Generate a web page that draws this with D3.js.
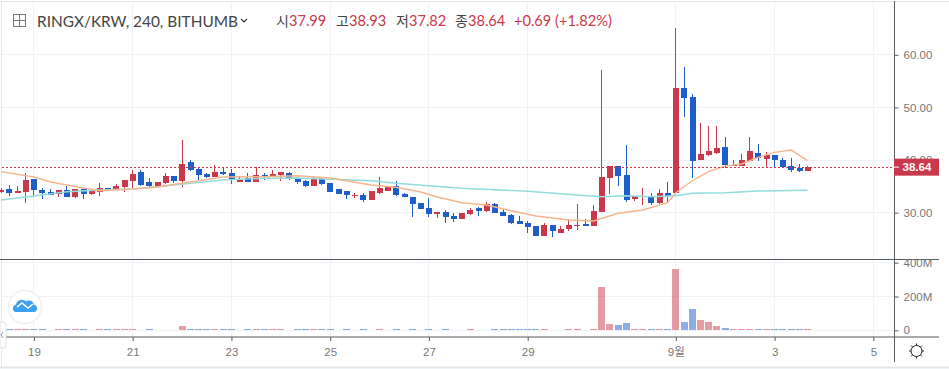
<!DOCTYPE html>
<html><head><meta charset="utf-8">
<script src="https://cdn.jsdelivr.net/npm/d3@7/dist/d3.min.js"></script>
<style>html,body{margin:0;padding:0;background:#fff;overflow:hidden}svg{display:block}</style>
</head><body><svg id="c" width="949" height="369"></svg>
<script>
const opens=[33.97,34.49,33.78,33.92,36.39,34.35,33.92,33.54,34.30,32.97,34.43,33.54,33.92,34.68,34.49,34.92,36.01,37.78,35.82,35.06,35.63,36.96,36.06,39.56,38.29,37.34,36.71,37.78,37.47,35.87,36.58,35.87,37.15,36.77,37.20,37.59,36.63,36.06,35.06,36.44,35.57,34.49,34.05,33.29,33.35,32.40,33.67,34.11,35.00,33.54,32.97,31.82,30.87,29.79,30.17,29.35,28.78,29.73,30.87,30.30,31.63,30.11,29.54,28.40,27.97,27.45,25.55,27.59,26.12,26.88,27.45,27.83,27.51,30.17,36.63,38.86,37.15,32.59,33.02,33.16,31.82,33.73,33.73,53.69,51.97,40.06,40.95,41.27,42.47,38.86,38.92,39.87,41.27,40.25,40.95,40.00,38.80,38.54,37.99];
const closes=[34.39,33.78,34.11,36.20,34.35,33.73,33.40,34.35,33.02,34.43,33.54,34.16,34.68,34.54,35.06,36.14,37.34,35.25,35.06,35.82,36.96,36.01,39.24,38.10,37.20,36.77,37.72,37.34,36.20,36.39,35.87,37.15,36.71,37.34,37.78,36.44,35.76,35.06,36.39,35.44,33.92,33.54,33.35,33.40,32.40,34.05,34.68,35.00,33.40,33.02,31.63,30.68,29.73,30.11,29.11,28.73,29.87,30.49,30.30,31.63,29.98,29.35,28.02,27.83,27.26,25.55,27.64,26.50,26.88,27.64,27.64,27.45,30.30,36.77,38.92,37.01,32.40,33.10,33.10,31.88,33.73,33.21,53.69,51.79,39.87,41.08,41.71,42.28,39.05,39.11,39.94,41.71,40.38,40.95,40.06,38.73,38.16,37.91,38.64];
const highs=[34.68,35.25,35.06,37.47,36.39,34.62,34.43,34.35,35.06,34.43,34.43,34.43,35.63,34.68,35.38,36.14,38.10,38.10,36.58,35.82,37.47,36.96,43.80,40.00,38.54,37.59,38.99,38.54,38.23,36.96,37.47,38.67,37.59,38.04,37.78,37.78,36.82,36.20,36.96,36.52,35.57,34.49,34.05,33.78,33.67,34.05,36.71,35.00,36.01,33.67,32.97,31.82,32.78,30.11,30.49,29.87,29.87,30.82,31.01,31.96,31.77,30.63,29.68,29.35,28.46,27.45,27.97,27.59,27.40,28.73,31.63,28.73,31.44,57.11,38.92,38.86,42.79,33.10,34.68,33.67,34.43,35.76,65.03,57.62,52.49,46.98,46.41,46.41,44.31,40.00,41.08,44.31,42.98,41.46,40.95,40.32,40.32,39.18,38.93];
const lows=[33.73,33.16,33.78,31.88,33.02,32.64,33.35,33.02,33.02,32.83,32.64,33.29,33.21,34.54,34.30,33.97,34.68,35.06,34.92,35.06,35.44,35.68,34.92,37.97,36.20,36.58,36.71,37.09,35.49,35.87,35.87,35.87,36.25,36.77,36.06,36.20,35.49,34.92,35.06,35.25,33.92,33.54,32.59,32.83,32.02,32.40,33.48,34.11,33.21,32.97,29.22,30.68,29.22,29.03,28.08,28.27,28.78,29.60,29.35,30.17,29.98,29.35,27.89,27.83,26.18,25.55,25.55,25.42,26.12,26.56,26.75,27.45,27.51,30.17,33.54,35.11,32.07,32.15,31.44,31.50,31.63,32.02,33.73,48.17,36.58,40.06,40.82,41.08,38.42,38.86,38.92,39.87,39.87,38.73,38.73,38.73,37.66,37.66,37.82];
const volumes=[2,2,2,2,2,2,0,2,2,2,2,0,2,2,2,2,2,0,2,0,0,0,25,2,2,2,2,2,2,0,2,2,2,2,2,0,2,2,2,2,2,0,2,0,2,0,2,0,2,0,10,0,2,0,2,0,0,2,0,0,2,2,2,2,2,2,2,0,0,2,8,0,8,256,37,32,43,2,8,2,2,2,362,49,125,61,49,26,14,4,8,8,8,8,3,3,3,3,1];
const orangeIdx=[0,4,6,10,12,16,19,23,27,32,36,40,45,48,51,53,56,59,62,65,69,72,75,78,81,82,84,86,88,90,92,94,96,98];
const orangeVals=[37.78,36.77,35.82,34.68,34.16,34.49,34.87,35.82,36.77,36.82,37.01,36.58,35.25,34.81,33.92,32.97,31.88,31.44,30.36,29.35,28.59,28.40,29.87,30.49,31.88,33.78,36.06,37.78,38.86,39.24,40.51,41.46,41.90,39.87];
const tealIdx=[0,4,8,12,16,19,23,27,32,36,45,48,56,64,70,73,76,79,82,84,88,92,98];
const tealVals=[32.40,33.16,33.97,34.30,34.49,34.92,35.57,36.20,36.52,36.58,36.06,35.57,34.62,34.05,33.35,33.02,33.21,33.02,33.21,33.67,33.78,34.11,34.24];
const priceTicks=[30,40,50,60];
const volumeTicks=[0,200,400];
const dateTickIdx=[4,16,28,40,52,64,82,94,106];
const dateTickLabels=["19","21","23","25","27","29","9월","3","5"];
const lastPrice=38.64;
const headerTitle="RINGX/KRW, 240, BITHUMB";
const ohlcKeys=["시","고","저","종"];
const ohlcVals=["37.99","38.93","37.82","38.64"];
const changeText="+0.69 (+1.82%)";

const RED="#c9394b",BLUE="#1f5ec9",GRID="#eff2f7",AXIS="#555a5e",TXT="#777";
const svg=d3.select("#c");
const x=d3.scaleLinear().domain([0,98]).range([1,807.5]);
const y=d3.scaleLinear().domain([30,60]).range([212.6,54.8]);
const v=d3.scaleLinear().domain([0,400]).range([330.3,262.7]);
const axisX=894.5,priceTop=1,priceBottom=259.5,volBottom=337;
const isUp=i=>closes[i]>=opens[i];
const idx=d3.range(opens.length);

// frame
svg.append("rect").attr("x",0).attr("y",0).attr("width",949).attr("height",369).attr("fill","#fff");
svg.append("line").attr("x1",0).attr("x2",949).attr("y1",1.5).attr("y2",1.5).attr("stroke","#e6e8ec");
svg.append("line").attr("x1",1.5).attr("x2",1.5).attr("y1",1).attr("y2",367).attr("stroke","#e6e8ec");
svg.append("line").attr("x1",0).attr("x2",949).attr("y1",367.5).attr("y2",367.5).attr("stroke","#e3e5e8").attr("stroke-width",2);

// grid
const grid=svg.append("g").attr("stroke",GRID).attr("shape-rendering","crispEdges");
grid.selectAll(".v").data(dateTickIdx).join("line").attr("x1",d=>x(d)).attr("x2",d=>x(d)).attr("y1",2).attr("y2",volBottom);
grid.selectAll(".p").data(priceTicks).join("line").attr("x1",2).attr("x2",axisX).attr("y1",d=>y(d)).attr("y2",d=>y(d));
grid.selectAll(".q").data(volumeTicks).join("line").attr("x1",2).attr("x2",axisX).attr("y1",d=>v(d)).attr("y2",d=>v(d));

// volume
svg.append("g").attr("opacity",.5).attr("shape-rendering","crispEdges").selectAll("rect")
 .data(idx.filter(i=>volumes[i]>0)).join("rect")
 .attr("x",i=>x(i)-3.5).attr("width",7)
 .attr("y",i=>Math.min(v(volumes[i]),v(0)-1)).attr("height",i=>Math.max(v(0)-v(volumes[i]),1))
 .attr("fill",i=>isUp(i)?RED:BLUE);

// candles
const candles=svg.append("g").attr("shape-rendering","crispEdges");
candles.selectAll("line").data(idx).join("line")
 .attr("x1",i=>x(i)).attr("x2",i=>x(i)).attr("y1",i=>y(highs[i])).attr("y2",i=>y(lows[i]))
 .attr("stroke",i=>isUp(i)?RED:BLUE);
candles.selectAll("rect").data(idx).join("rect")
 .attr("x",i=>x(i)-2.75).attr("width",6)
 .attr("y",i=>y(Math.max(opens[i],closes[i])))
 .attr("height",i=>Math.max(y(Math.min(opens[i],closes[i]))-y(Math.max(opens[i],closes[i])),1))
 .attr("fill",i=>isUp(i)?RED:BLUE);

// moving averages
const ma=(ix,vals,color)=>svg.append("path").attr("fill","none").attr("stroke",color).attr("stroke-width",1.4)
 .attr("d",d3.line().x(d=>x(d)).y((d,k)=>y(vals[k]))(ix));
ma(tealIdx,tealVals,"#92dcdc");
ma(orangeIdx,orangeVals,"#f5b58c");

// price line
svg.append("line").attr("x1",2).attr("x2",axisX).attr("y1",y(lastPrice)).attr("y2",y(lastPrice))
 .attr("stroke",RED).attr("stroke-dasharray","2,2").attr("shape-rendering","crispEdges");

// pane separators
svg.append("line").attr("x1",0).attr("x2",939).attr("y1",priceBottom).attr("y2",priceBottom).attr("stroke",AXIS).attr("stroke-width",1);
svg.append("line").attr("x1",0).attr("x2",939).attr("y1",volBottom).attr("y2",volBottom).attr("stroke",AXIS).attr("stroke-width",1);

// axes
const styleAxis=g=>{g.select(".domain").remove();g.selectAll("line").attr("stroke",AXIS);
 g.selectAll("text").attr("fill",TXT).style("font-family","'Liberation Sans',Arial,sans-serif").style("font-size","11.5px");};
svg.append("g").attr("transform",`translate(${axisX},0)`)
 .call(d3.axisRight(y).tickValues(priceTicks).tickFormat(d3.format(".2f")).tickSize(4).tickPadding(5)).call(styleAxis);
svg.append("g").attr("transform",`translate(${axisX},0)`)
 .call(d3.axisRight(v).tickValues(volumeTicks).tickFormat(d=>d?d+"M":"0").tickSize(4).tickPadding(5)).call(styleAxis);
const xg=svg.append("g").attr("transform",`translate(0,${volBottom})`)
 .call(d3.axisBottom(x).tickValues(dateTickIdx).tickFormat((d,k)=>dateTickLabels[k]).tickSize(4).tickPadding(7)).call(styleAxis);
xg.selectAll("text").style("font-family","'Liberation Sans','Noto Sans CJK KR',sans-serif");
svg.append("line").attr("x1",axisX).attr("x2",axisX).attr("y1",1).attr("y2",362).attr("stroke",AXIS);

// last-price tag
svg.append("rect").attr("x",894).attr("y",y(lastPrice)-8.5).attr("width",45).attr("height",17).attr("fill",RED);
svg.append("line").attr("x1",894).attr("x2",899).attr("y1",y(lastPrice)).attr("y2",y(lastPrice)).attr("stroke","#fff");
svg.append("text").attr("x",902.5).attr("y",y(lastPrice)+4).text(ohlcVals[3]).attr("fill","#fff")
 .style("font-family","'Liberation Sans',sans-serif").style("font-size","11.5px").style("font-weight","bold");

// header
const kr="'Noto Sans CJK KR',sans-serif";
svg.append("rect").attr("x",13.5).attr("y",14.5).attr("width",12).attr("height",12).attr("fill","none").attr("stroke","#777");
svg.append("path").attr("d","M19.5 15V26M14 20.5H25").attr("stroke","#777").attr("fill","none");
svg.append("text").attr("x",37).attr("y",27).text(headerTitle).attr("fill","#444")
 .style("font-family","Lato,sans-serif").style("font-size","15.4px");
svg.append("path").attr("d","M241 19l3 3 3-3").attr("stroke","#333").attr("fill","none").attr("stroke-width",1.2);
const keyX=[276,336,396,455],valX=[289,349,409,468];
ohlcKeys.forEach((k,i)=>{
 svg.append("text").attr("x",keyX[i]).attr("y",26).text(k).attr("fill","#444").style("font-family",kr).style("font-size","14px");
 svg.append("text").attr("x",valX[i]).attr("y",26).text(ohlcVals[i]).attr("fill",RED).style("font-family","Lato,sans-serif").style("font-size","14.6px");
});
svg.append("text").attr("x",514).attr("y",26).text(changeText).attr("fill",RED).style("font-family","Lato,sans-serif").style("font-size","14.6px");

// logo
svg.append("circle").attr("cx",25).attr("cy",307).attr("r",16.5).attr("fill","#fff").attr("stroke","#eef1f4").attr("stroke-width",1.5);
svg.append("path").attr("d","M15 312a4 4 0 0 1 1-7.5a6 6 0 0 1 10-3a5 5 0 0 1 8 3a4 4 0 0 1 1 7.5z").attr("fill","#3c9ff0");
svg.append("path").attr("d","M17 307l5-4 6 5 5-4").attr("fill","none").attr("stroke","#fff").attr("stroke-width",1.6);
// collapse tab
svg.append("path").attr("d","M0 322h3a3 3 0 0 1 3 3v20a3 3 0 0 1-3 3h-3z").attr("fill","#fff").attr("stroke","#dfe2e6");
svg.append("path").attr("d","M3 332l-2 3 2 3").attr("fill","none").attr("stroke","#999");

// gear
svg.append("circle").attr("cx",916.5).attr("cy",351).attr("r",5.5).attr("fill","none").attr("stroke","#222").attr("stroke-width",1);
svg.append("path").attr("d","M916.5 343.5v2M916.5 356.5v2M909 351h2M922 351h2M911.2 345.7l1.4 1.4M920.4 354.9l1.4 1.4M911.2 356.3l1.4-1.4M920.4 347.1l1.4-1.4").attr("stroke","#222");
</script></body></html>
